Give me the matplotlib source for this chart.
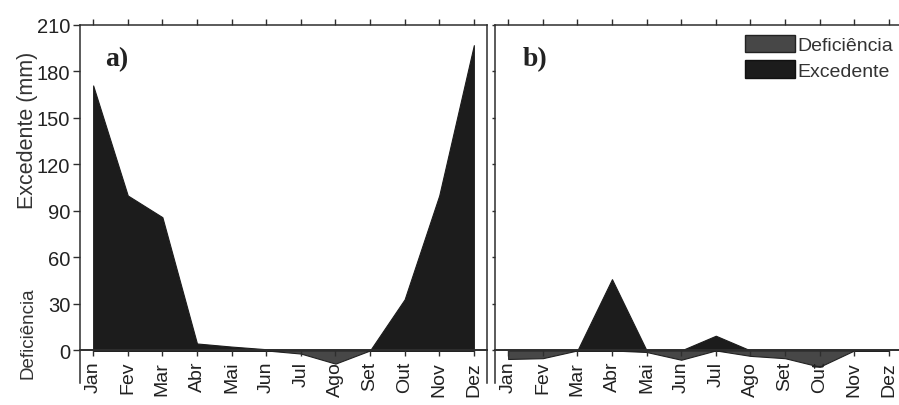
import matplotlib
matplotlib.use('Agg')
import matplotlib.pyplot as plt
from matplotlib.patches import Patch
from matplotlib import font_manager

# monthly water balance values (mm)
months = ['Jan', 'Fev', 'Mar', 'Abr', 'Mai', 'Jun', 'Jul', 'Ago', 'Set', 'Out', 'Nov', 'Dez']
exc_a = [171, 100, 86, 4.5, 2.5, 0.8, 0, 0, 0, 33, 100, 197]
def_a = [0, 0, 0, 0, 0, 0, -2, -8.5, 0, 0, 0, 0]
exc_b = [0, 0, 0, 46, 0, 0, 9.5, 0, 0, 0, 0, 0]
def_b = [-5.5, -5, 0, 0, -1, -6, 0, -3.5, -5, -10.5, 0, 0]
yticks = [0, 30, 60, 90, 120, 150, 180, 210]

col_exc = '#1c1c1c'
col_def = '#474747'
col_line = '#2e2e2e'

names = {f.name for f in font_manager.fontManager.ttflist}
narrow = 'Liberation Sans Narrow' if 'Liberation Sans Narrow' in names else 'Liberation Sans'
tick_size = 16 if narrow == 'Liberation Sans Narrow' else 14.5

fig = plt.figure(figsize=(8.99, 4.06), dpi=100)
W, H = 899, 406
ax_a = fig.add_axes([80 / W, 1 - 384 / H, 407 / W, 358 / H])
ax_b = fig.add_axes([495 / W, 1 - 384 / H, 407 / W, 358 / H])

x = list(range(1, 13))

def style_panel(ax, exc, dfc, show_yticklabels):
    ax.fill_between(x, 0, exc, facecolor=col_exc, edgecolor=col_exc, linewidth=0.8, zorder=1)
    ax.fill_between(x, 0, dfc, facecolor=col_def, edgecolor='#222222', linewidth=0.8, zorder=1)
    ax.set_xlim(0.62, 12.38)
    ax.set_ylim(-21, 210)
    ax.spines['bottom'].set_position(('data', 0))
    for s in ax.spines.values():
        s.set_linewidth(1.1)
        s.set_color(col_line)
        s.set_zorder(3)
    ax.spines['bottom'].set_linewidth(1.4)
    ax.set_xticks(x)
    ax.set_xticklabels(months, rotation=90, fontsize=14, family='Liberation Sans',
                       color='#222222')
    ax.tick_params(axis='x', direction='out', top=True, labeltop=False,
                   length=4.5, width=1, color=col_line, pad=3)
    ax.set_yticks(yticks)
    if show_yticklabels:
        ax.set_yticklabels([str(v) for v in yticks], fontsize=tick_size, family=narrow,
                           color='#222222')
        ax.tick_params(axis='y', direction='out', length=5, width=1, color=col_line, pad=2)
    else:
        ax.set_yticklabels([])
        ax.tick_params(axis='y', direction='out', length=2, width=1, color=col_line)
    ax.set_facecolor('white')

style_panel(ax_a, exc_a, def_a, True)
style_panel(ax_b, exc_b, def_b, False)

ax_a.text(0.09, 0.905, 'a)', transform=ax_a.transAxes, ha='center', va='center',
          fontsize=20, fontweight='bold', family='Liberation Serif', color='#222222')
ax_b.text(0.098, 0.905, 'b)', transform=ax_b.transAxes, ha='center', va='center',
          fontsize=20, fontweight='bold', family='Liberation Serif', color='#222222')

fig.text(28 / W, 1 - 130 / H, 'Excedente (mm)', rotation=90, ha='center', va='center',
         fontsize=15.5, family='Liberation Sans', color='#333333')
fig.text(28 / W, 1 - 333 / H, 'Deficiência', rotation=90, ha='center', va='center',
         fontsize=13.5, family='Liberation Sans', color='#333333')

handles = [Patch(facecolor=col_def, edgecolor='#222222', linewidth=1),
           Patch(facecolor=col_exc, edgecolor='#111111', linewidth=1)]
fig.legend(handles, ['Deficiência', 'Excedente'], loc='upper right',
           bbox_to_anchor=(893 / W, 1 - 36 / H), frameon=False,
           prop={'family': 'Liberation Sans', 'size': 14},
           handlelength=2.55, handleheight=1.0, handletextpad=0.12,
           labelspacing=0.3, borderpad=0, borderaxespad=0, labelcolor='#333333')

fig.savefig('out.png', dpi=100, facecolor='white')
